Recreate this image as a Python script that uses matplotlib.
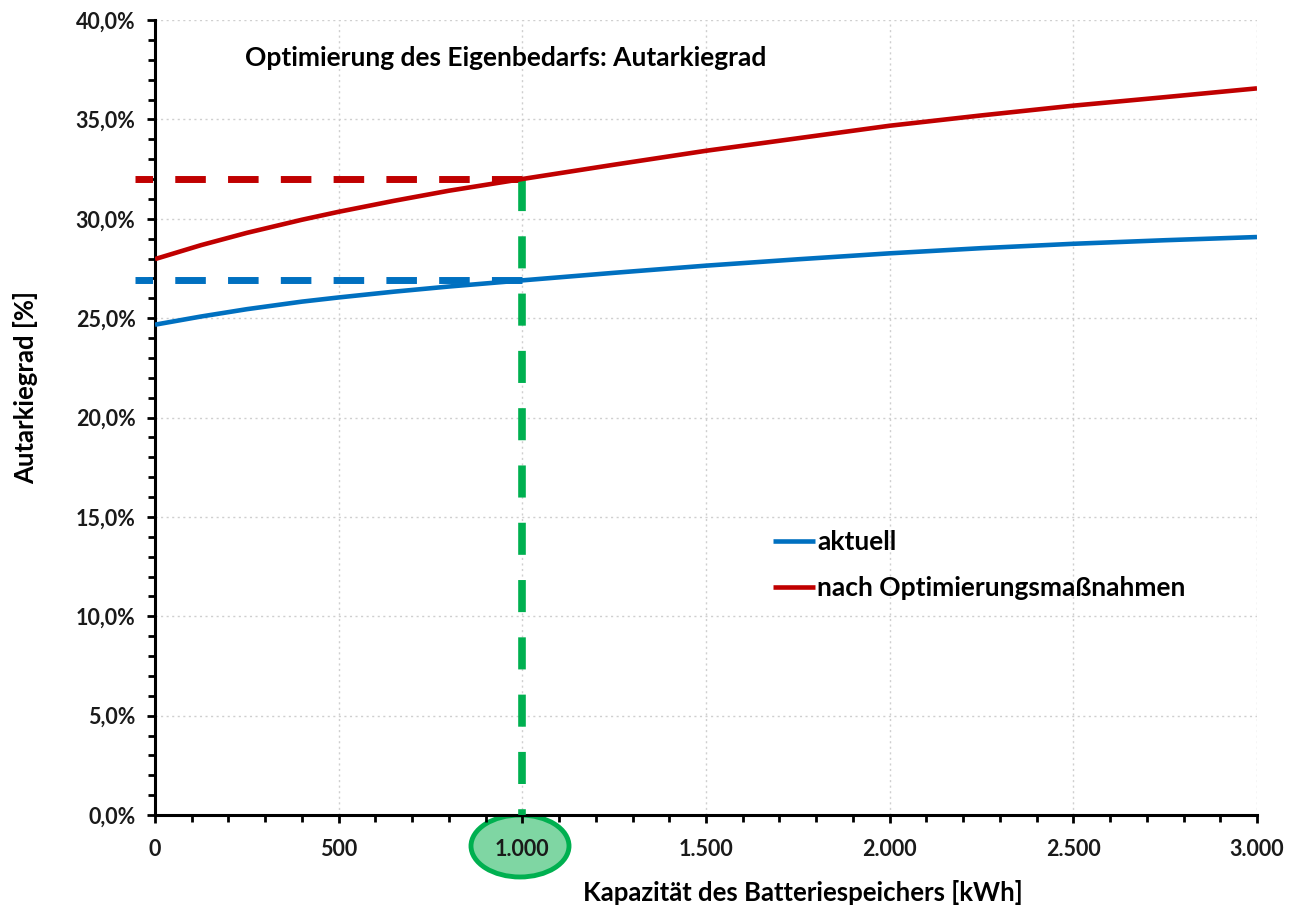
import matplotlib
matplotlib.use("Agg")
import matplotlib.pyplot as plt
from matplotlib.patches import Ellipse
from matplotlib.ticker import MultipleLocator, FuncFormatter

# Kapazität [kWh] und Autarkiegrad [%]
kapazitaet = [0, 125, 250, 400, 500, 650, 800, 1000, 1250, 1500, 1750, 2000, 2250, 2500, 2750, 3000]
aktuell = [24.67, 25.08, 25.45, 25.83, 26.04, 26.33, 26.59, 26.90, 27.28, 27.64, 27.96, 28.26,
           28.52, 28.74, 28.92, 29.08]
optimiert = [27.97, 28.67, 29.29, 29.95, 30.35, 30.90, 31.41, 32.00, 32.72, 33.42, 34.05, 34.68,
             35.20, 35.69, 36.12, 36.56]

# markierter Punkt
x_mark = 1000
y_mark_akt = 26.9
y_mark_opt = 32.0

BLUE = "#0070C0"
RED = "#C00000"
GREEN = "#00B050"

plt.rcParams['font.family'] = ['Lato', 'DejaVu Sans']
plt.rcParams['font.weight'] = 'bold'

fig = plt.figure(figsize=(12.89, 9.07), dpi=100)
ax = fig.add_axes([155/1289, 1-815/907, (1257-155)/1289, (815-20)/907])

ax.plot(kapazitaet, aktuell, color=BLUE, lw=3.3, label='aktuell', zorder=4, solid_capstyle='butt')
ax.plot(kapazitaet, optimiert, color=RED, lw=3.3, label='nach Optimierungsmaßnahmen', zorder=4,
        solid_capstyle='butt')

# Hilfslinien (von 1000 nach links, damit das Muster dort beginnt)
ax.plot([x_mark, -55], [y_mark_opt, y_mark_opt], color=RED, lw=5, dashes=(4.4, 3.2),
        clip_on=False, zorder=3, dash_capstyle='butt')
ax.plot([x_mark, -55], [y_mark_akt, y_mark_akt], color=BLUE, lw=5, dashes=(4.4, 3.2),
        clip_on=False, zorder=3, dash_capstyle='butt')
ax.plot([x_mark, x_mark], [y_mark_opt, 0], color=GREEN, lw=5.5, dashes=(4.2, 3.3),
        zorder=3, dash_capstyle='butt')

ax.set_xlim(0, 3000)
ax.set_ylim(0, 40)
ax.xaxis.set_major_locator(MultipleLocator(500))
ax.xaxis.set_minor_locator(MultipleLocator(100))
ax.yaxis.set_major_locator(MultipleLocator(5))
ax.yaxis.set_minor_locator(MultipleLocator(1))
ax.xaxis.set_major_formatter(FuncFormatter(lambda v, p: f"{int(v):,}".replace(',', '.')))
ax.yaxis.set_major_formatter(FuncFormatter(lambda v, p: f"{v:.1f}%".replace('.', ',')))

ax.grid(True, which='major', color='#CFCFCF', linestyle=(0, (1.5, 2.5)), linewidth=1.0)
for s in ['top', 'right']:
    ax.spines[s].set_visible(False)
for s in ['left', 'bottom']:
    ax.spines[s].set_linewidth(2.2)
ax.tick_params(which='major', direction='out', length=6, width=2, labelsize=15.5, pad=8,
               colors='black')
ax.tick_params(which='minor', direction='out', length=5, width=2)
ax.tick_params(axis='y', labelcolor='#1a1a1a')
ax.tick_params(axis='x', labelcolor='#1a1a1a', pad=11)

ax.set_ylabel('Autarkiegrad [%]', fontsize=18.5, fontweight='bold')
ax.yaxis.set_label_coords(-0.106, 0.538)
ax.set_xlabel('Kapazität des Batteriespeichers [kWh]', fontsize=18.5, fontweight='bold')
ax.xaxis.set_label_coords(0.588, -0.082)

ax.text(245/1289, 1-58/907, 'Optimierung des Eigenbedarfs: Autarkiegrad', transform=fig.transFigure,
        fontsize=19, fontweight='bold', va='center', ha='left')

ax.legend(loc='upper left', bbox_to_anchor=(773/1289, 1-530/907), bbox_transform=fig.transFigure,
          frameon=False, fontsize=19, handlelength=1.6, handletextpad=0.08, labelspacing=0.85,
          borderaxespad=0, borderpad=0)

# Markierung der 1.000 kWh
ell = Ellipse((520/1289, 1-846/907), 98/1289, 62/907, transform=fig.transFigure,
              facecolor='#7FD6A3', edgecolor=GREEN, linewidth=3.5, zorder=-1)
fig.add_artist(ell)

fig.savefig('out.png', dpi=100)
